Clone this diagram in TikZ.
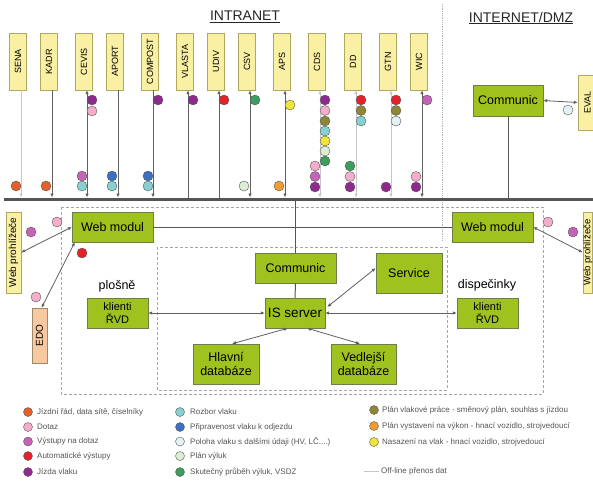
\documentclass[tikz,border=0pt]{standalone}
\usepackage{fontspec}
\setmainfont{Liberation Sans}
\usetikzlibrary{arrows.meta}
\definecolor{cjr}{HTML}{E4602A}
\definecolor{cdotaz}{HTML}{F4AECB}
\definecolor{cvyst}{HTML}{C463B8}
\definecolor{cauto}{HTML}{E42229}
\definecolor{cjizda}{HTML}{8E2A8E}
\definecolor{crozbor}{HTML}{86D0D2}
\definecolor{cprip}{HTML}{3C70C4}
\definecolor{cpoloha}{HTML}{E2F2F2}
\definecolor{cplanv}{HTML}{DCEED2}
\definecolor{cskut}{HTML}{3B9E5C}
\definecolor{cpvp}{HTML}{8E8636}
\definecolor{cpvyst}{HTML}{F29A30}
\definecolor{cnas}{HTML}{F2E43A}
\definecolor{gfill}{HTML}{A0C21E}
\definecolor{gbord}{HTML}{6E7E48}
\definecolor{yfill}{HTML}{FAF0A4}
\definecolor{ybord}{HTML}{B0A860}
\definecolor{efill}{HTML}{F8C9A0}
\definecolor{ebord}{HTML}{A08868}
\definecolor{linec}{HTML}{555555}
\definecolor{legc}{HTML}{555555}
\tikzset{
  sysbox/.style={draw=ybord, fill=yfill, rotate=90, minimum width=57pt, minimum height=17pt, inner sep=0pt, font=\fontsize{9}{10}\selectfont},
  gbox/.style={draw=gbord, fill=gfill, inner sep=0pt, align=center, font=\fontsize{12.5}{14}\selectfont},
  dot/.style={circle, draw=gray!70!black, line width=0.4pt, minimum size=10pt, inner sep=0pt},
  ldot/.style={circle, draw=gray!70!black, line width=0.4pt, minimum size=9pt, inner sep=0pt},
  conn/.style={line width=0.8pt, draw=gray!75!black},
  lconn/.style={line width=0.8pt, draw=gray!45},
  tipd/.style={-{Latex[length=4pt,width=3.5pt]}},
  tipu/.style={{Latex[length=4pt,width=3.5pt]}-},
  tipb/.style={{Latex[length=4pt,width=3.5pt]}-{Latex[length=4pt,width=3.5pt]}},
  legtxt/.style={anchor=west, inner sep=0pt, text=legc, font=\fontsize{8}{9}\selectfont},
  title/.style={font=\fontsize{14}{16}\selectfont, text=black!85}
}
\begin{document}
\begin{tikzpicture}[x=1pt,y=-1pt]
\clip (0,0) rectangle (593,480);
\fill[white] (0,0) rectangle (593,480);

% titles and separator
\node[title] (tintra) at (245,17) {\underline{INTRANET}};
\node[title] (tinter) at (521,18) {\underline{INTERNET/DMZ}};
\draw[gray!60, densely dotted, line width=0.8pt] (442,4) -- (442,240);

% dashed areas
\draw[gray!70, densely dashed, line width=0.6pt] (61,207) rectangle (543,394);
\draw[gray!70, densely dashed, line width=0.6pt] (157,247) rectangle (447,390);

% bus
\coordinate (busL) at (4,199);
\coordinate (busR) at (600,199);
\coordinate (busY) at (0,197.5);
\draw[line width=3pt, draw=linec] (busL) -- (busR);

% system boxes
\node[sysbox] (sena) at (18,61.5) {SENA};
\node[sysbox] (kadr) at (49,61.5) {KADR};
\node[sysbox] (cevis) at (84,61.5) {CEVIS};
\node[sysbox] (aport) at (115,61.5) {APORT};
\node[sysbox] (compost) at (150,61.5) {COMPOST};
\node[sysbox] (vlasta) at (185,61.5) {VLASTA};
\node[sysbox] (udiv) at (216,61.5) {UDIV};
\node[sysbox] (csv) at (247,61.5) {CSV};
\node[sysbox] (aps) at (282,61.5) {APS};
\node[sysbox] (cds) at (317,61.5) {CDS};
\node[sysbox] (dd) at (353,61.5) {DD};
\node[sysbox] (gtn) at (388,61.5) {GTN};
\node[sysbox] (wic) at (419,61.5) {WIC};

\draw[lconn, tipd] ([xshift=3pt]sena.west) -- ([xshift=3pt]sena.west |- busY);
\draw[conn, tipd] ([xshift=3pt]kadr.west) -- ([xshift=3pt]kadr.west |- busY);
\draw[conn, tipb] ([xshift=3pt]cevis.west) -- ([xshift=3pt]cevis.west |- busY);
\draw[conn, tipd] ([xshift=3pt]aport.west) -- ([xshift=3pt]aport.west |- busY);
\draw[conn, tipd] ([xshift=3pt]compost.west) -- ([xshift=3pt]compost.west |- busY);
\draw[conn, tipu] ([xshift=3pt]vlasta.west) -- ([xshift=3pt]vlasta.west |- busY);
\draw[conn, tipu] ([xshift=3pt]udiv.west) -- ([xshift=3pt]udiv.west |- busY);
\draw[conn, tipb] ([xshift=3pt]csv.west) -- ([xshift=3pt]csv.west |- busY);
\draw[conn, tipb] ([xshift=3pt]aps.west) -- ([xshift=3pt]aps.west |- busY);
\draw[lconn, tipb] ([xshift=3pt]cds.west) -- ([xshift=3pt]cds.west |- busY);
\draw[lconn, tipb] ([xshift=3pt]dd.west) -- ([xshift=3pt]dd.west |- busY);
\draw[lconn, tipb] ([xshift=3pt]gtn.west) -- ([xshift=3pt]gtn.west |- busY);
\draw[conn, tipb] ([xshift=3pt]wic.west) -- ([xshift=3pt]wic.west |- busY);

% internet side
\node[gbox, minimum width=70pt, minimum height=31pt] (comtop) at (508,100.5) {Communic};
\node[sysbox, minimum width=55pt, minimum height=19pt] (eval) at (587.5,102.5) {EVAL};
\draw[conn, tipb] (comtop.east) -- (eval.north);
\draw[line width=1pt, draw=linec] (comtop.south) -- (comtop.south |- busY);

% web modules
\node[gbox, minimum width=81pt, minimum height=30pt] (wmL) at (112.5,227) {Web modul};
\node[gbox, minimum width=81pt, minimum height=30pt] (wmR) at (492.5,227) {Web modul};
\node[sysbox, minimum width=81pt, minimum height=15pt, font=\fontsize{10}{11}\selectfont] (webL) at (13.5,252.5) {Web prohlížeče};
\node[sysbox, minimum width=81pt, minimum height=9.5pt, font=\fontsize{9.5}{10.5}\selectfont] (webR) at (587.75,252.5) {Web prohlížeče};
\node[sysbox, draw=ebord, fill=efill, minimum width=55pt, minimum height=15pt, font=\fontsize{10}{11}\selectfont] (edo) at (39.5,335.5) {EDO};

\draw[conn, tipb] (wmL.west) -- (webL.south);
\draw[conn, tipb] (wmR.east) -- (webR.north);
\draw[conn, tipb] ([xshift=2pt]edo.east) -- ([xshift=3pt]wmL.south west);
\draw[line width=1pt, draw=linec] (wmL.east) -- (wmR.west);

% core
\node[gbox, minimum width=81pt, minimum height=30pt] (comc) at (295.5,268) {Communic};
\node[gbox, minimum width=60pt, minimum height=30pt, font=\fontsize{13.5}{15}\selectfont] (iss) at (295,313) {IS server};
\node[gbox, minimum width=66pt, minimum height=40pt] (serv) at (409,273) {Service};
\node[gbox, minimum width=61pt, minimum height=30pt, font=\fontsize{11}{12.5}\selectfont] (kL) at (117.5,313) {klienti\\ŘVD};
\node[gbox, minimum width=61pt, minimum height=30pt, font=\fontsize{11}{12.5}\selectfont] (kR) at (487.5,313) {klienti\\ŘVD};
\node[gbox, minimum width=66pt, minimum height=40pt] (hdb) at (226,364) {Hlavní\\databáze};
\node[gbox, minimum width=65pt, minimum height=40pt] (vdb) at (363.5,364) {Vedlejší\\databáze};
\node[font=\fontsize{12.5}{14}\selectfont] (lplos) at (117,286) {plošně};
\node[font=\fontsize{12.5}{14}\selectfont] (ldisp) at (487,285) {dispečinky};

\draw[line width=1pt, draw=linec] (comc.north |- busY) -- (comc.north);
\draw[line width=1pt, draw=linec] (comc.south) -- (iss.north);
\draw[conn, tipb] (kL.east) -- (iss.west);
\draw[conn, tipb] (iss.east) -- (kR.west);
\draw[conn, tipb] ([xshift=2pt,yshift=6pt]iss.east) -- ([yshift=5pt]serv.west);
\draw[conn, tipb] ([xshift=-7pt]iss.south) -- ([xshift=6pt]hdb.north);
\draw[conn, tipb] ([xshift=12pt]iss.south) -- ([xshift=-3.5pt]vdb.north);

% data dots
\node[dot, fill=cjr] (d1) at (16,186) {};
\node[dot, fill=cjr] (d2) at (46,186) {};
\node[dot, fill=cjizda] (d3) at (92,100) {};
\node[dot, fill=cdotaz] (d4) at (92,111) {};
\node[dot, fill=cvyst] (d5) at (82,176) {};
\node[dot, fill=crozbor] (d6) at (82,186) {};
\node[dot, fill=cprip] (d7) at (112,176) {};
\node[dot, fill=crozbor] (d8) at (112,186) {};
\node[dot, fill=cjizda] (d9) at (158,100) {};
\node[dot, fill=cprip] (d10) at (148,176) {};
\node[dot, fill=crozbor] (d11) at (148,186) {};
\node[dot, fill=cjizda] (d12) at (193,100) {};
\node[dot, fill=cauto] (d13) at (224,100) {};
\node[dot, fill=cskut] (d14) at (255,100) {};
\node[dot, fill=cplanv] (d15) at (244,186) {};
\node[dot, fill=cnas] (d16) at (290,105) {};
\node[dot, fill=cpvyst] (d17) at (279,186) {};
\node[dot, fill=cjizda] (d18) at (325,100) {};
\node[dot, fill=cdotaz] (d19) at (325,110.5) {};
\node[dot, fill=cpvp] (d20) at (325,121) {};
\node[dot, fill=crozbor] (d21) at (325,131) {};
\node[dot, fill=cnas] (d22) at (325,141) {};
\node[dot, fill=cplanv] (d23) at (325,151) {};
\node[dot, fill=cskut] (d24) at (325,161) {};
\node[dot, fill=cdotaz] (d25) at (315,166) {};
\node[dot, fill=cvyst] (d26) at (315,176.5) {};
\node[dot, fill=cjizda] (d27) at (315,187) {};
\node[dot, fill=cauto] (d28) at (361,100) {};
\node[dot, fill=cpvp] (d29) at (361,110.5) {};
\node[dot, fill=crozbor] (d30) at (361,121) {};
\node[dot, fill=cskut] (d31) at (350,166) {};
\node[dot, fill=cdotaz] (d32) at (350,176.5) {};
\node[dot, fill=cjizda] (d33) at (350,187) {};
\node[dot, fill=cauto] (d34) at (396,100) {};
\node[dot, fill=cpvp] (d35) at (396,110.5) {};
\node[dot, fill=cpoloha] (d36) at (396,121) {};
\node[dot, fill=cjizda] (d37) at (386,187) {};
\node[dot, fill=cvyst] (d38) at (427,100) {};
\node[dot, fill=cdotaz] (d39) at (416,176.5) {};
\node[dot, fill=cjizda] (d40) at (416,187) {};
\node[dot, fill=cpoloha] (d41) at (568,110) {};
\node[dot, fill=cdotaz] (d42) at (57,222) {};
\node[dot, fill=cvyst] (d43) at (31,232) {};
\node[dot, fill=cauto] (d44) at (82,253) {};
\node[dot, fill=cdotaz] (d45) at (36,297) {};
\node[dot, fill=cdotaz] (d46) at (548,222) {};
\node[dot, fill=cvyst] (d47) at (573,232) {};

% legend
\node[ldot, fill=cjr] (l1) at (28,412) {};
\node[legtxt] (t1) at (37,412) {Jízdní řád, data sítě, číselníky};
\node[ldot, fill=cdotaz] (l2) at (28,427) {};
\node[legtxt] (t2) at (37,427) {Dotaz};
\node[ldot, fill=cvyst] (l3) at (28,441.5) {};
\node[legtxt] (t3) at (37,441.5) {Výstupy na dotaz};
\node[ldot, fill=cauto] (l4) at (28,456) {};
\node[legtxt] (t4) at (37,456) {Automatické výstupy};
\node[ldot, fill=cjizda] (l5) at (28,472) {};
\node[legtxt] (t5) at (37,472) {Jízda vlaku};

\node[ldot, fill=crozbor] (l6) at (180,412) {};
\node[legtxt] (t6) at (190,412) {Rozbor vlaku};
\node[ldot, fill=cprip] (l7) at (180,427) {};
\node[legtxt] (t7) at (190,427) {Připravenost vlaku k odjezdu};
\node[ldot, fill=cpoloha] (l8) at (180,441.5) {};
\node[legtxt] (t8) at (190,441.5) {Poloha vlaku s dalšími údaji (HV, LČ....)};
\node[ldot, fill=cplanv] (l9) at (180,456) {};
\node[legtxt] (t9) at (190,456) {Plán výluk};
\node[ldot, fill=cskut] (l10) at (180,472) {};
\node[legtxt] (t10) at (190,472) {Skutečný průběh výluk, VSDZ};

\node[ldot, fill=cpvp] (l11) at (374,410) {};
\node[legtxt] (t11) at (382,410) {Plán vlakové práce - směnový plán, souhlas s jízdou};
\node[ldot, fill=cpvyst] (l12) at (374,426) {};
\node[legtxt] (t12) at (382,426) {Plán vystavení na výkon - hnací vozidlo, strojvedoucí};
\node[ldot, fill=cnas] (l13) at (374,442) {};
\node[legtxt] (t13) at (382,442) {Nasazení na vlak - hnací vozidlo, strojvedoucí};
\coordinate (ofa) at (364,471);
\coordinate (ofb) at (379,471);
\draw[gray!45, line width=0.8pt] (ofa) -- (ofb);
\node[legtxt] (t14) at (381,471) {Off-line přenos dat};
\end{tikzpicture}
\end{document}
